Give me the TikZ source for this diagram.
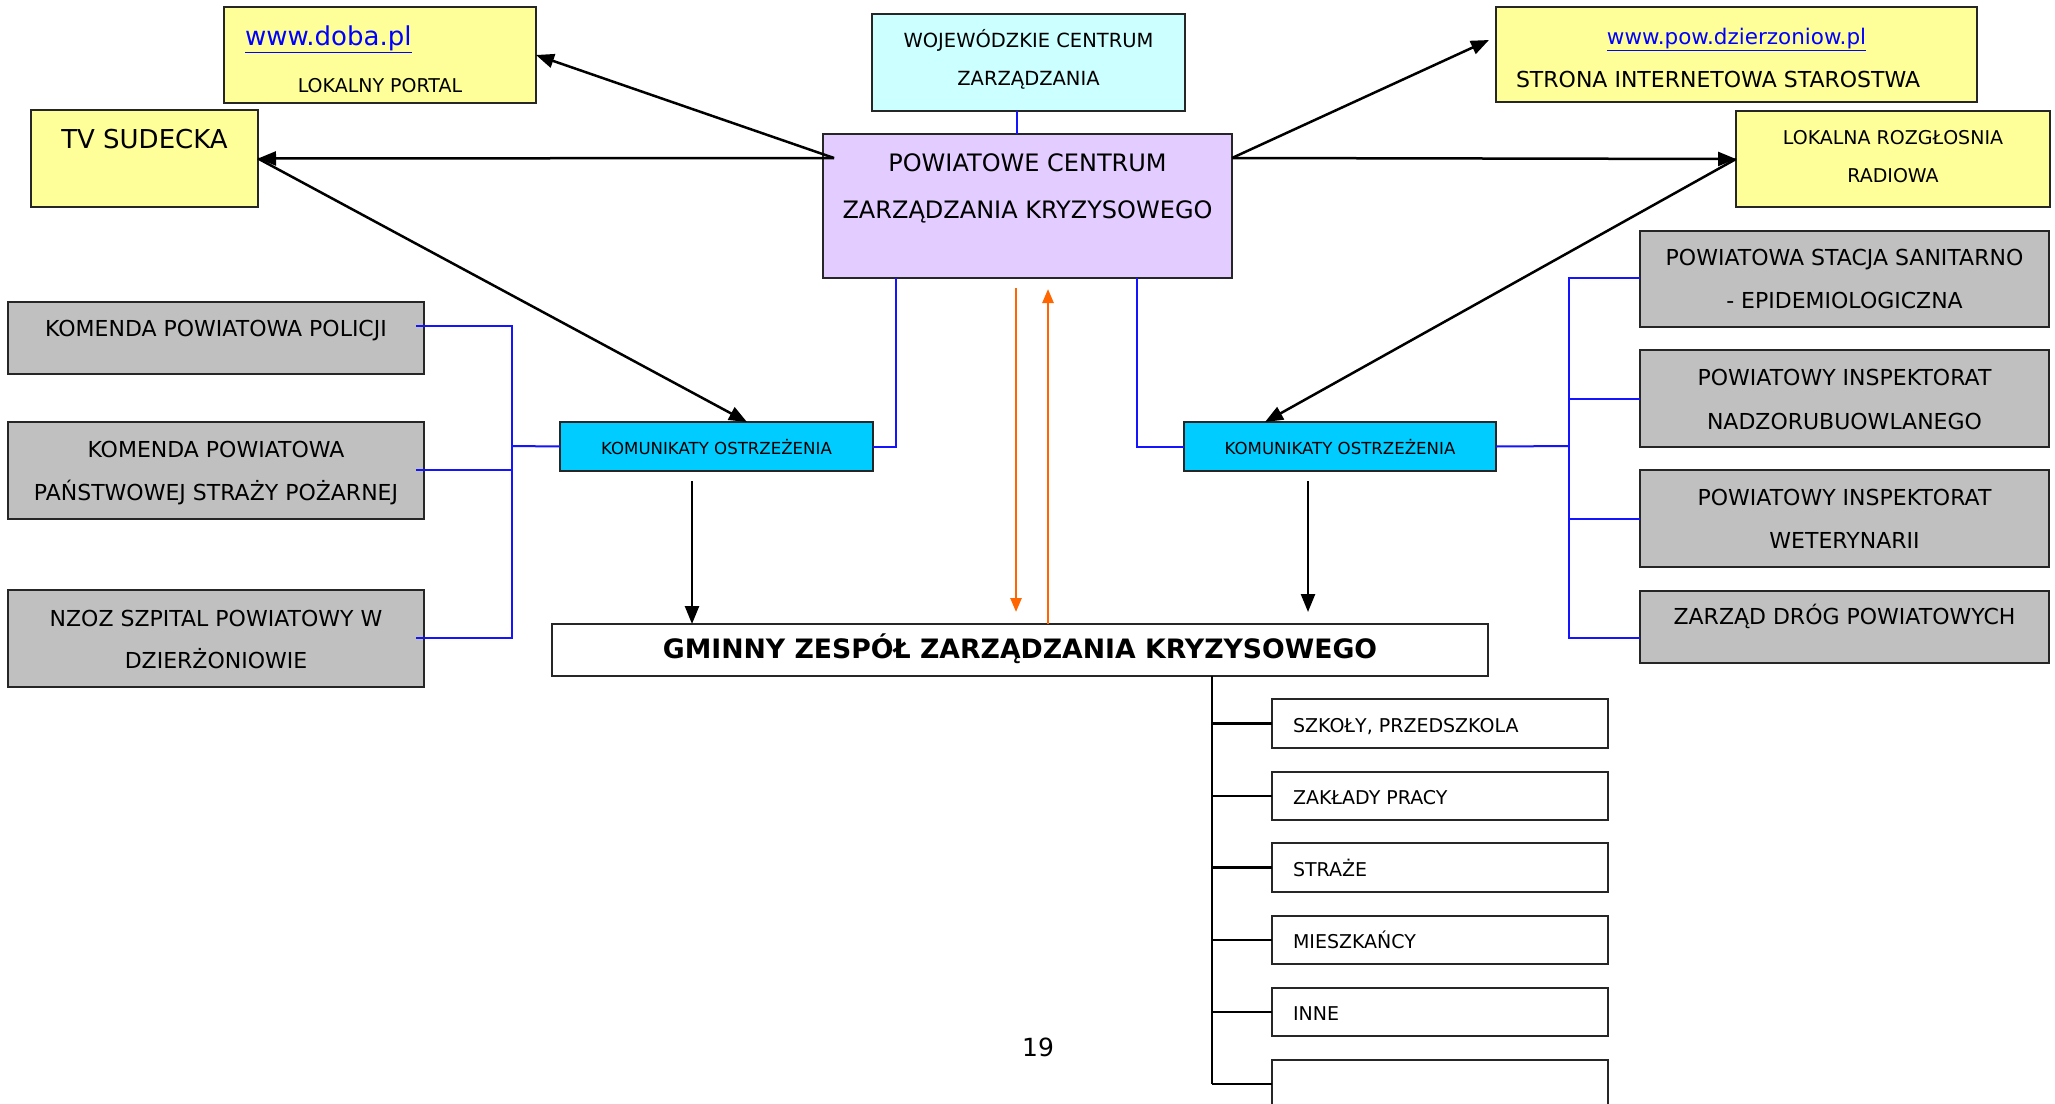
\documentclass[tikz,border=0pt]{standalone}
\usepackage{fontspec}
\setmainfont{DejaVu Sans}
\usetikzlibrary{arrows.meta}
\definecolor{ylw}{RGB}{255,255,153}
\definecolor{lcyan}{RGB}{204,255,255}
\definecolor{lav}{RGB}{227,204,255}
\definecolor{grayb}{RGB}{192,192,192}
\definecolor{kcyan}{RGB}{0,204,255}
\definecolor{bl}{RGB}{20,20,255}
\definecolor{org}{RGB}{255,102,0}
\definecolor{link}{RGB}{0,0,255}
\newcommand\fsz[1]{\fontsize{#1}{#1}\selectfont}
\tikzset{
  box/.style={draw=black!85, line width=2pt, inner sep=0pt, outer sep=0pt},
  ybox/.style={box, fill=ylw},
  cbox/.style={box, fill=lcyan},
  lbox/.style={box, fill=lav},
  gbox/.style={box, fill=grayb},
  kbox/.style={box, fill=kcyan},
  wbox/.style={box, fill=white},
  txt/.style={inner sep=0pt, outer sep=0pt, anchor=mid, yshift=-6pt},
  ltxt/.style={inner sep=0pt, outer sep=0pt, anchor=mid west, yshift=-6pt},
  arr/.style={line width=2.5pt, -{Triangle[length=18pt,width=14pt]}},
  oarr/.style={line width=2.5pt, draw=org, -{Triangle[length=14pt,width=11pt]}},
  bline/.style={line width=2pt, draw=bl},
  kline/.style={line width=2.5pt, draw=black},
}
\begin{document}
\begin{tikzpicture}[x=1pt,y=-1pt]
\useasboundingbox (0,0) rectangle (2055,1103);
\clip (0,0) rectangle (2055,1103);
\fill[white] (0,0) rectangle (2055,1103);

% --- boxes ---
\node[ybox, minimum width=312, minimum height=96] (doba) at (380,55) {};
\node[ybox, minimum width=227, minimum height=97] (tv) at (144.5,158.5) {};
\node[cbox, minimum width=313, minimum height=97] (wcz) at (1028.5,62.5) {};
\node[lbox, minimum width=409, minimum height=144] (pczk) at (1027.5,206) {};
\node[ybox, minimum width=481, minimum height=95] (pow) at (1736.5,54.5) {};
\node[ybox, minimum width=314, minimum height=96] (lok) at (1893,159) {};

\node[gbox, minimum width=416, minimum height=72] (pol) at (216,338) {};
\node[gbox, minimum width=416, minimum height=97] (psp) at (216,470.5) {};
\node[gbox, minimum width=416, minimum height=97] (nzoz) at (216,638.5) {};

\node[kbox, minimum width=313, minimum height=49] (koml) at (716.5,446.5) {};
\node[kbox, minimum width=312, minimum height=49] (komr) at (1340,446.5) {};

\node[gbox, minimum width=409, minimum height=96] (psse) at (1844.5,279) {};
\node[gbox, minimum width=409, minimum height=97] (pinb) at (1844.5,398.5) {};
\node[gbox, minimum width=409, minimum height=97] (piw) at (1844.5,518.5) {};
\node[gbox, minimum width=409, minimum height=72] (zdp) at (1844.5,627) {};

\node[wbox, minimum width=936, minimum height=52] (gzzk) at (1020,650) {};

\node[wbox, minimum width=336, minimum height=49] (s1) at (1440,723.5) {};
\node[wbox, minimum width=336, minimum height=48] (s2) at (1440,796) {};
\node[wbox, minimum width=336, minimum height=49] (s3) at (1440,867.5) {};
\node[wbox, minimum width=336, minimum height=48] (s4) at (1440,940) {};
\node[wbox, minimum width=336, minimum height=48] (s5) at (1440,1012) {};
\node[wbox, minimum width=336, minimum height=48] (s6) at (1440,1084) {};

% --- texts ---
\node[ltxt, font=\fsz{26}, text=link] (t-doba1) at (245,37) {\underline{www.doba.pl}};
\node[txt, font=\fsz{19}] (t-doba2) at (380,84) {LOKALNY PORTAL};
\node[txt, font=\fsz{26}] (t-tv) at (144.5,140) {TV SUDECKA};
\node[txt, font=\fsz{19.5}] (t-wcz1) at (1028.5,39) {WOJEWÓDZKIE CENTRUM};
\node[txt, font=\fsz{19.5}] (t-wcz2) at (1028.5,77) {ZARZĄDZANIA};
\node[txt, font=\fsz{24}] (t-pczk1) at (1027.5,163) {POWIATOWE CENTRUM};
\node[txt, font=\fsz{24}] (t-pczk2) at (1027.5,210) {ZARZĄDZANIA KRYZYSOWEGO};
\node[txt, font=\fsz{21.5}, text=link] (t-pow1) at (1736.5,36) {\underline{www.pow.dzierzoniow.pl}};
\node[ltxt, font=\fsz{22}] (t-pow2) at (1516,79) {STRONA INTERNETOWA STAROSTWA};
\node[txt, font=\fsz{19}] (t-lok1) at (1893,136) {LOKALNA ROZGŁOSNIA};
\node[txt, font=\fsz{19}] (t-lok2) at (1893,174) {RADIOWA};

\node[txt, font=\fsz{22}] (t-pol) at (216,328) {KOMENDA POWIATOWA POLICJI};
\node[txt, font=\fsz{22}] (t-psp1) at (216,449) {KOMENDA POWIATOWA};
\node[txt, font=\fsz{22}] (t-psp2) at (216,492) {PAŃSTWOWEJ STRAŻY POŻARNEJ};
\node[txt, font=\fsz{22}] (t-nzoz1) at (216,618) {NZOZ SZPITAL POWIATOWY W};
\node[txt, font=\fsz{22}] (t-nzoz2) at (216,660) {DZIERŻONIOWIE};

\node[txt, font=\fsz{16.6}] (t-koml) at (716.5,446) {KOMUNIKATY OSTRZEŻENIA};
\node[txt, font=\fsz{16.6}] (t-komr) at (1340,446) {KOMUNIKATY OSTRZEŻENIA};

\node[txt, font=\fsz{22}] (t-psse1) at (1844.5,257) {POWIATOWA STACJA SANITARNO};
\node[txt, font=\fsz{22}] (t-psse2) at (1844.5,300) {- EPIDEMIOLOGICZNA};
\node[txt, font=\fsz{22}] (t-pinb1) at (1844.5,377) {POWIATOWY INSPEKTORAT};
\node[txt, font=\fsz{22}] (t-pinb2) at (1844.5,421) {NADZORUBUOWLANEGO};
\node[txt, font=\fsz{22}] (t-piw1) at (1844.5,497) {POWIATOWY INSPEKTORAT};
\node[txt, font=\fsz{22}] (t-piw2) at (1844.5,540) {WETERYNARII};
\node[txt, font=\fsz{22}] (t-zdp) at (1844.5,616) {ZARZĄD DRÓG POWIATOWYCH};

\node[txt, font=\bfseries\fsz{26.7}] (t-gzzk) at (1020,650) {GMINNY ZESPÓŁ ZARZĄDZANIA KRYZYSOWEGO};

\node[ltxt, font=\fsz{19}] (t-s1) at (1293,723.5) {SZKOŁY, PRZEDSZKOLA};
\node[ltxt, font=\fsz{19}] (t-s2) at (1293,796) {ZAKŁADY PRACY};
\node[ltxt, font=\fsz{19}] (t-s3) at (1293,867.5) {STRAŻE};
\node[ltxt, font=\fsz{19}] (t-s4) at (1293,940) {MIESZKAŃCY};
\node[ltxt, font=\fsz{19}] (t-s5) at (1293,1012) {INNE};

\node[txt, font=\fsz{25}] (pagenum) at (1038,1048) {19};

% --- connector end points ---
\coordinate (pczkL) at (834,158);
\coordinate (pczkR) at (1232,158);
\coordinate (powIn) at (1489,40);
\coordinate (komlIn) at (747,422);
\coordinate (komrIn) at (1265,422);
\coordinate (komlD) at (692,481);
\coordinate (komrD) at (1308,481);
\coordinate (gzzkR) at (1308,612);
\coordinate (orgDn) at (1016,288);
\coordinate (orgDnE) at (1016,612);
\coordinate (orgUp) at (1048,289);
\coordinate (busL) at (512,446);
\coordinate (busR) at (1569,446);

% --- black arrows ---
\draw[arr] (pczkL) -- (doba.east);
\draw[arr] (pczkL) -- (tv.east);
\draw[arr] (pczkR) -- (powIn);
\draw[arr] (pczkR) -- (lok.west);
\draw[arr] (tv.east) -- (komlIn);
\draw[arr] (lok.west) -- (komrIn);
\draw[arr] (komlD) -- (gzzk.north -| komlD);
\draw[arr] (komrD) -- (gzzkR);

% --- orange arrows ---
\draw[oarr] (orgDn) -- (orgDnE);
\draw[oarr] (gzzk.north -| orgUp) -- (orgUp);

% --- blue links ---
\draw[bline] (wcz.south -| 1017,0) -- (pczk.north -| 1017,0);
\draw[bline] (pczk.south -| 896,0) |- (koml.east);
\draw[bline] (pczk.south -| 1137,0) |- (komr.west);
\draw[bline] (koml.west) -- (busL);
\draw[bline] (416,326) -| (busL);
\draw[bline] (416,470) -| (busL);
\draw[bline] (416,638) -| (busL);
\draw[bline] (komr.east) -- (busR);
\draw[bline] (psse.west |- 0,278) -| (busR);
\draw[bline] (pinb.west) -| (busR);
\draw[bline] (piw.west) -| (busR);
\draw[bline] (zdp.west |- 0,638) -| (busR);

% --- municipal distribution tree ---
\draw[kline] (gzzk.south -| 1212,0) -- (1212,1084);
\foreach \n in {s1,s2,s3,s4,s5,s6}
  \draw[kline] (\n.west) -- (\n.west -| 1212,0);
\end{tikzpicture}
\end{document}
